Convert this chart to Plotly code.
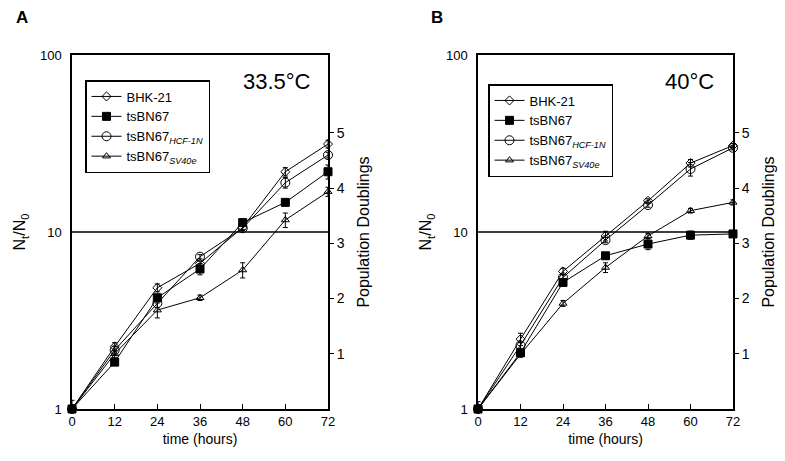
import plotly.graph_objects as go

W, H = 785, 461
FONT = "Arial, Liberation Sans, Helvetica, sans-serif"

hours = [0, 12, 24, 36, 48, 60, 72]
x_ticks = [0, 12, 24, 36, 48, 60, 72]
y_ticks = [1, 10, 100]
doubling_ticks = [1, 2, 3, 4, 5]
ref_level = 10

names = ["BHK-21", "tsBN67", "tsBN67<sub><i>HCF-1N</i></sub>", "tsBN67<sub><i>SV40e</i></sub>"]

# Panel A: 33.5 °C
bhk_A = [1.0, 2.25, 4.84, 6.65, 10.6, 21.9, 31.4]
bhk_A_err = [0.12, 0.12, 0.25, 0.2, 0.3, 1.2, 1.6]
ts_A = [1.0, 1.84, 4.25, 6.18, 11.3, 14.7, 21.9]
ts_A_err = [0.05, 0.08, 0.2, 0.45, 0.4, 0.5, 2.0]
hcf_A = [1.0, 2.15, 3.95, 7.25, 10.5, 19.0, 27.2]
hcf_A_err = [0.05, 0.1, 0.2, 0.2, 0.3, 1.3, 1.0]
sv_A = [1.0, 2.05, 3.62, 4.25, 6.1, 11.7, 16.9]
sv_A_err = [0.05, 0.1, 0.35, 0.15, 0.6, 1.1, 1.0]

# Panel B: 40 °C
bhk_B = [1.0, 2.48, 5.99, 9.5, 15.0, 24.5, 30.8]
bhk_B_err = [0.1, 0.2, 0.25, 0.6, 0.4, 1.2, 0.8]
ts_B = [1.0, 2.08, 5.19, 7.34, 8.55, 9.6, 9.75]
ts_B_err = [0.05, 0.08, 0.2, 0.2, 0.6, 0.5, 0.2]
hcf_B = [1.0, 2.29, 5.54, 9.0, 14.2, 22.7, 29.9]
hcf_B_err = [0.05, 0.1, 0.2, 0.3, 0.4, 2.0, 0.8]
sv_B = [1.0, 2.04, 3.95, 6.3, 9.5, 13.2, 14.7]
sv_B_err = [0.05, 0.08, 0.15, 0.4, 0.3, 0.4, 0.5]

markers = [
    dict(symbol="diamond-open", size=7, color="black", line=dict(width=1, color="black")),
    dict(symbol="square", size=8, color="black", line=dict(width=1, color="black")),
    dict(symbol="circle-open", size=9, color="black", line=dict(width=1, color="black")),
    dict(symbol="triangle-up-open", size=7, color="black", line=dict(width=1, color="black")),
]

panels = [
    dict(xa="x", ya="y", legend="legend",
         series=[(bhk_A, bhk_A_err), (ts_A, ts_A_err), (hcf_A, hcf_A_err), (sv_A, sv_A_err)]),
    dict(xa="x2", ya="y2", legend="legend2",
         series=[(bhk_B, bhk_B_err), (ts_B, ts_B_err), (hcf_B, hcf_B_err), (sv_B, sv_B_err)]),
]

fig = go.Figure()
for p in panels:
    fig.add_trace(go.Scatter(
        x=[x_ticks[0], x_ticks[-1]], y=[ref_level, ref_level], mode="lines",
        line=dict(color="black", width=1.5), xaxis=p["xa"], yaxis=p["ya"],
        showlegend=False, hoverinfo="skip"))
    for i, (vals, errs) in enumerate(p["series"]):
        fig.add_trace(go.Scatter(
            x=hours, y=vals, name=names[i], mode="lines+markers",
            line=dict(color="black", width=1), marker=markers[i],
            error_y=dict(type="data", array=errs, color="black", thickness=1, width=2.5),
            xaxis=p["xa"], yaxis=p["ya"], legend=p["legend"], cliponaxis=False))

# invisible traces to activate right axes
for ya, xa in [("y3", "x"), ("y4", "x2")]:
    fig.add_trace(go.Scatter(x=[None], y=[None], xaxis=xa, yaxis=ya, showlegend=False))

top = 1 - 55 / H
bot = 1 - 409 / H
domA = [72 / W, 328 / W]
domB = [478 / W, 733 / W]

def xaxis(dom, anchor):
    return dict(domain=dom, anchor=anchor, range=[0, 72], tickvals=x_ticks,
                ticks="inside", ticklen=5, tickcolor="black", showline=True,
                linecolor="black", linewidth=1.5, mirror=True, showgrid=False,
                zeroline=False, automargin=False,
                tickfont=dict(family=FONT, size=13, color="black"),
                title=dict(text="time (hours)", standoff=6,
                           font=dict(family=FONT, size=14, color="black")))

def yaxis(anchor):
    return dict(domain=[bot, top], anchor=anchor, type="log", range=[0, 2],
                tickvals=y_ticks, ticktext=[str(v) for v in y_ticks], ticks="",
                showline=True, linecolor="black", linewidth=1.5, mirror=True,
                showgrid=False, zeroline=False, automargin=False, ticklabelstandoff=6,
                tickfont=dict(family=FONT, size=13, color="black"),
                title=dict(text="N<sub>t</sub>/N<sub>0</sub>", standoff=10,
                           font=dict(family=FONT, size=16, color="black")))

def y2axis(anchor, overlay):
    return dict(domain=[bot, top], anchor=anchor, overlaying=overlay, side="right",
                range=[0, (409 - 55) / 55.25], tickvals=doubling_ticks,
                ticks="outside", ticklen=5, tickcolor="black", showline=False,
                showgrid=False, zeroline=False, automargin=False,
                tickfont=dict(family=FONT, size=14, color="black"),
                title=dict(text="Population Doublings", standoff=14,
                           font=dict(family=FONT, size=16, color="black")))

legend_common = dict(bgcolor="white", bordercolor="black", borderwidth=1.5,
                     font=dict(family=FONT, size=13, color="black"),
                     xanchor="left", yanchor="top", tracegroupgap=0,
                     itemwidth=30, itemclick=False)

def label(text, x, y, size, bold=False):
    return dict(text=f"<b>{text}</b>" if bold else text, x=x / W, y=1 - y / H,
                xref="paper", yref="paper", xanchor="center", yanchor="middle",
                showarrow=False, font=dict(family=FONT, size=size, color="black"))

fig.update_layout(
    width=W, height=H, margin=dict(l=0, r=0, t=0, b=0, autoexpand=False),
    paper_bgcolor="white", plot_bgcolor="white",
    xaxis=xaxis(domA, "y"), yaxis=yaxis("x"),
    xaxis2=xaxis(domB, "y2"), yaxis2=yaxis("x2"),
    yaxis3=y2axis("x", "y"), yaxis4=y2axis("x2", "y2"),
    legend=dict(x=85 / W, y=1 - 80 / H, **legend_common),
    legend2=dict(x=488 / W, y=1 - 84 / H, **legend_common),
    annotations=[
        label("A", 22, 18, 17, bold=True),
        label("B", 437, 18, 17, bold=True),
        label("33.5°C", 277, 82, 22),
        label("40°C", 689, 82, 22),
    ],
    showlegend=True,
)

fig.write_html("out.html", config={"displayModeBar": False},
               post_script="document.body.style.margin='0px';")
